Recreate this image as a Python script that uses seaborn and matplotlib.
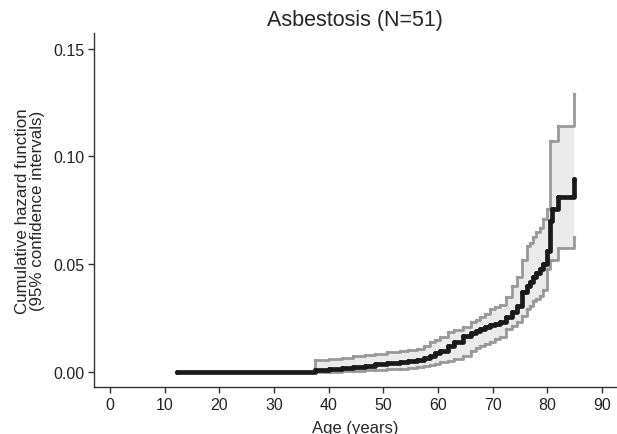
import matplotlib
matplotlib.use("Agg")
import matplotlib.pyplot as plt
import seaborn as sns
import pandas as pd

# Cumulative hazard estimate with 95% CI
age = [12.3, 37.5, 40.0, 42.5, 44.5, 46.6, 48.5, 50.6, 53.0, 54.5, 56.1, 57.5,
       58.5, 59.5, 60.3, 61.8, 63.0, 64.6, 66.0, 67.0, 67.7, 68.5, 69.5, 70.5,
       71.3, 72.5, 73.5, 74.4, 75.3, 76.2, 76.8, 77.4, 78.0, 78.6, 79.2, 80.0,
       80.4, 80.8, 82.0, 84.9]
hazard = [0.0, 0.0008, 0.0012, 0.0017, 0.0022, 0.0028, 0.0034, 0.0040, 0.0046, 0.0050,
          0.0056, 0.0064, 0.0074, 0.0085, 0.0098, 0.0120, 0.0140, 0.0167, 0.0180, 0.0190,
          0.0198, 0.0206, 0.0215, 0.0222, 0.0230, 0.0255, 0.0276, 0.0307, 0.0370, 0.0400,
          0.0415, 0.0440, 0.0458, 0.0477, 0.0500, 0.0560, 0.0700, 0.0756, 0.0810, 0.0895]
lower = [0.0, 0.0, 0.0, 0.0003, 0.0005, 0.0008, 0.0010, 0.0013, 0.0015, 0.0018,
         0.0023, 0.0026, 0.0030, 0.0037, 0.0044, 0.0052, 0.0060, 0.0075, 0.0095, 0.0108,
         0.0120, 0.0130, 0.0140, 0.0150, 0.0160, 0.0198, 0.0214, 0.0230, 0.0260, 0.0290,
         0.0307, 0.0330, 0.0340, 0.0350, 0.0380, 0.0477, 0.0520, 0.0520, 0.0575, 0.0626]
upper = [0.0, 0.0054, 0.0058, 0.0064, 0.0071, 0.0078, 0.0084, 0.0090, 0.0098, 0.0101,
         0.0105, 0.0120, 0.0137, 0.0148, 0.0160, 0.0183, 0.0195, 0.0210, 0.0230, 0.0242,
         0.0253, 0.0270, 0.0290, 0.0300, 0.0310, 0.0346, 0.0400, 0.0440, 0.0520, 0.0586,
         0.0600, 0.0626, 0.0648, 0.0670, 0.0710, 0.0756, 0.1070, 0.1070, 0.1140, 0.1290]

df = pd.DataFrame({"Age": age, "Hazard": hazard, "Lower": lower, "Upper": upper})

sns.set_style("ticks")
plt.rcParams["font.family"] = ["Liberation Sans", "DejaVu Sans"]

fig = plt.figure(figsize=(6.17, 4.35), dpi=100)
ax = fig.add_axes([0.153, 0.108, 0.845, 0.814])

# CI band
ax.fill_between(df["Age"], df["Lower"], df["Upper"], step="post", color="#ebebeb", linewidth=0)

# CI limits
sns.lineplot(x="Age", y="Upper", data=df, ax=ax, drawstyle="steps-post", color="#999999",
             linewidth=2.0, marker="o", markersize=2.5, markeredgewidth=0)
sns.lineplot(x="Age", y="Lower", data=df, ax=ax, drawstyle="steps-post", color="#999999",
             linewidth=2.0, marker="o", markersize=2.5, markeredgewidth=0)

# Estimate
sns.lineplot(x="Age", y="Hazard", data=df, ax=ax, drawstyle="steps-post", color="#1a1a1a",
             linewidth=3.4, marker="o", markersize=3.5, markeredgewidth=0)

ax.set_xlim(-2.85, 92.5)
ax.set_ylim(-0.0071, 0.1574)
ax.set_xticks(range(0, 91, 10))
ax.set_yticks([0.0, 0.05, 0.10, 0.15])
ax.set_yticklabels(["0.00", "0.05", "0.10", "0.15"])

ax.set_title("Asbestosis (N=51)", fontsize=15.5, pad=6)
ax.set_xlabel("Age (years)", fontsize=12, labelpad=6)
ax.set_ylabel("Cumulative hazard function\n(95% confidence intervals)", fontsize=12.2,
              linespacing=1.05, labelpad=6)

sns.despine(ax=ax)
for side in ["left", "bottom"]:
    ax.spines[side].set_color("#333333")
    ax.spines[side].set_linewidth(1.0)
ax.tick_params(axis="both", labelsize=11.5, length=4, width=1.0, color="#333333",
               labelcolor="#222222", pad=3)

fig.savefig("out.png", dpi=100)
